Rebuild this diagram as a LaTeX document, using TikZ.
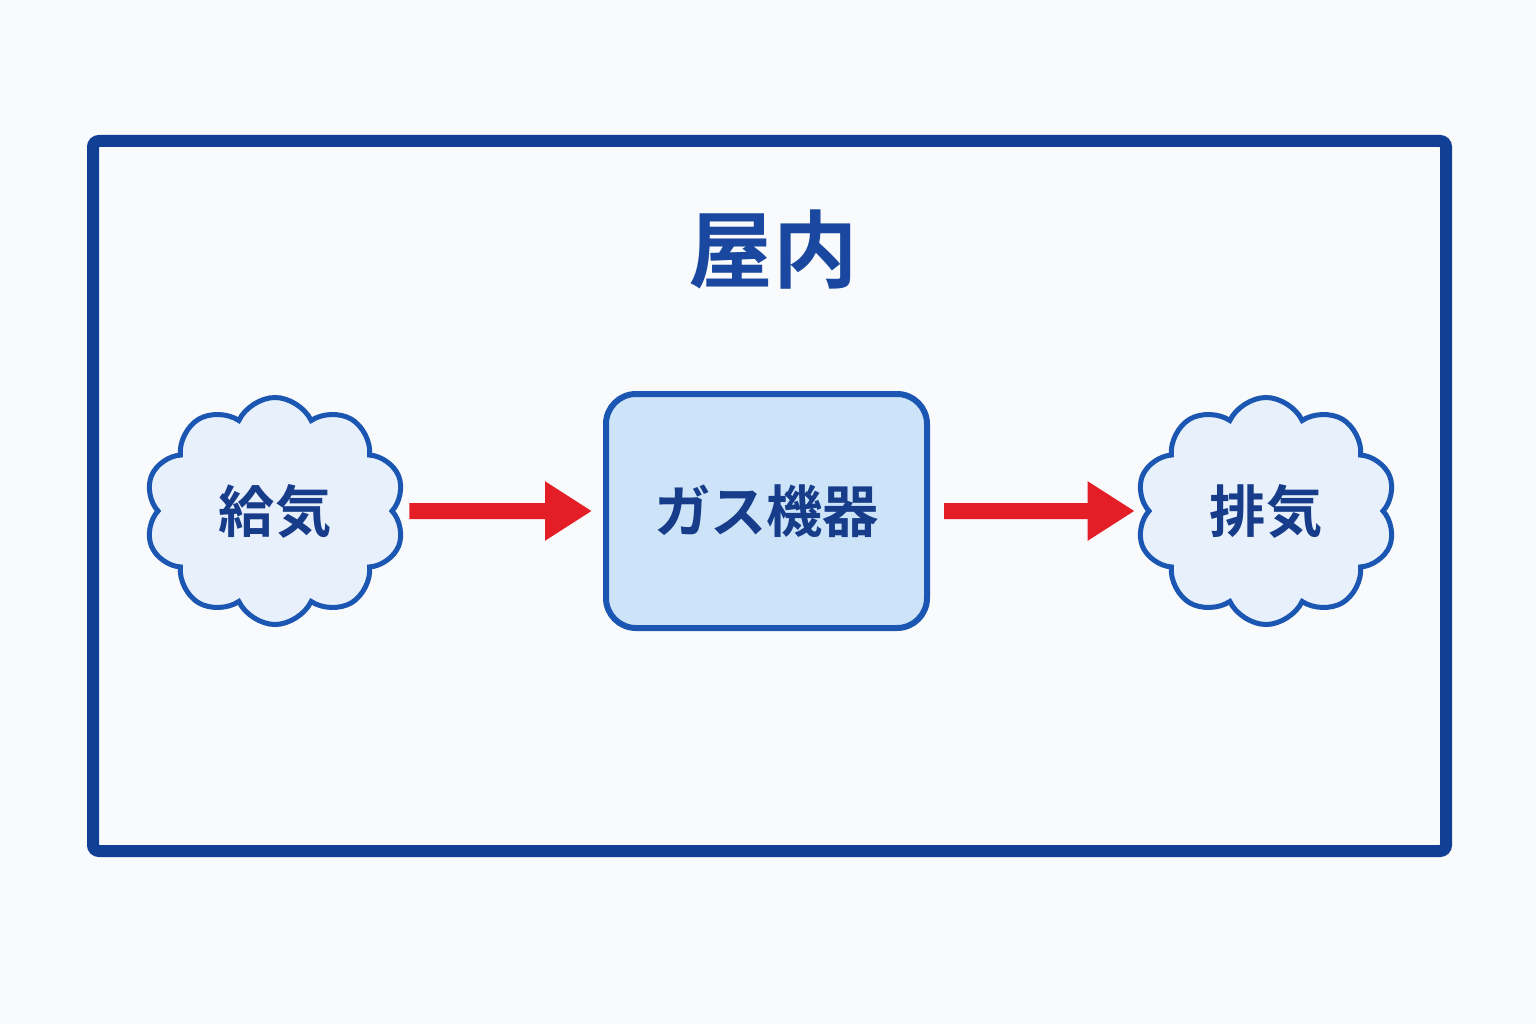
\documentclass[tikz,border=0pt]{standalone}
\usepackage{fontspec}
\usepackage{tikz}
\usetikzlibrary{arrows.meta,positioning,shapes.symbols}
\usepackage{xcolor}
\newfontfamily\cjk{Noto Sans CJK JP}[BoldFont={Noto Sans CJK JP Bold}]
\definecolor{paper}{HTML}{F9FAFB}
\definecolor{navy}{HTML}{123F96}
\definecolor{edgeblue}{HTML}{1A56B2}
\definecolor{textnavy}{HTML}{173C8A}
\definecolor{titleblue}{HTML}{1A48A0}
\definecolor{cloudfill}{HTML}{E8F1FB}
\definecolor{boxfill}{HTML}{CDE4F8}
\definecolor{flowred}{HTML}{E31E27}
\tikzset{
  frame/.style={draw=navy, line width=1.2mm, rounded corners=0.6mm, minimum width=13.53cm, minimum height=7.10cm},
  puff/.style={cloud, cloud puffs=10, cloud puff arc=130, draw=edgeblue, line width=0.5mm, fill=cloudfill, minimum width=2.6cm, minimum height=2.27cm, aspect=1.1, font=\cjk\bfseries\fontsize{16}{18}\selectfont, text=textnavy},
  unitbox/.style={draw=edgeblue, line width=0.6mm, rounded corners=3mm, fill=boxfill, minimum width=3.21cm, minimum height=2.34cm, font=\cjk\bfseries\fontsize{16}{18}\selectfont, text=textnavy},
  title/.style={font=\cjk\bfseries\fontsize{24}{27}\selectfont, text=titleblue},
  arrow/.style={-{Triangle[length=4.7mm,width=5.6mm]}, line width=1.6mm, draw=flowred, shorten <=1.4mm, shorten >=1.1mm}
}
\begin{document}
\begin{tikzpicture}
  \useasboundingbox (0,0) rectangle (15.36,10.24);
  \fill[paper] (0,0) rectangle (15.36,10.24);
  \node[frame] (room) at (7.695,5.28) {};
  \node[title] (roomlabel) at (7.73,7.74) {屋内};
  \node[unitbox] (gas) at (7.665,5.13) {ガス機器};
  \node[puff] (intake) at (2.75,5.13) {給気};
  \node[puff] (exhaust) at (12.66,5.13) {排気};
  \draw[arrow] (intake.east) -- (gas.west);
  \draw[arrow] (gas.east) -- (exhaust.west);
\end{tikzpicture}
\end{document}
